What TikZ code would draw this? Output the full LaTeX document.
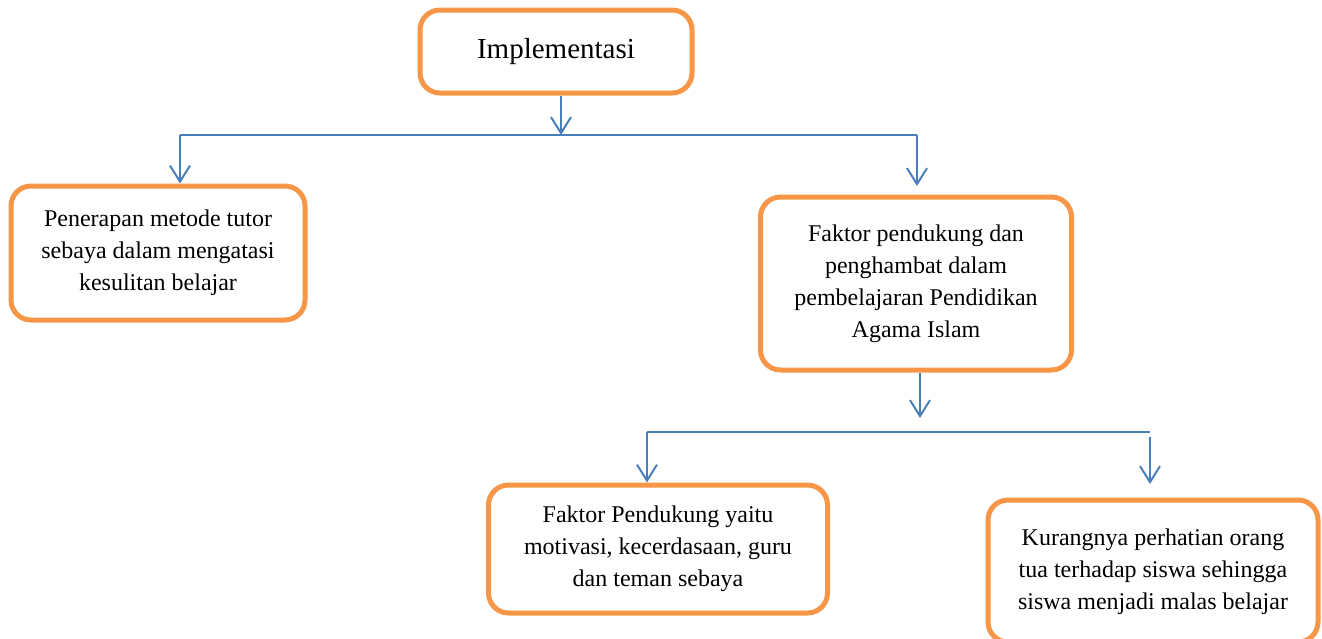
\documentclass[tikz,border=0pt]{standalone}
\usepackage{fontspec}
\setmainfont{Liberation Serif}
\usetikzlibrary{arrows.meta}
\definecolor{boxorange}{HTML}{F79646}
\definecolor{lineblue}{HTML}{4A7EBB}
\begin{document}
\begin{tikzpicture}[x=1pt,y=-1pt,
  box/.style={draw=boxorange,line width=5pt,rounded corners=20pt,fill=white,
    align=center,inner sep=0pt,font=\fontsize{24}{32}\selectfont},
  conn/.style={draw=lineblue,line width=2pt},
  arr/.style={conn,-{Straight Barb[length=16pt,width=20pt]}}]
\useasboundingbox (0,0) rectangle (1322,638);
\node[box,minimum width=272pt,minimum height=83pt,font=\fontsize{29}{35}\selectfont] (impl) at (556,51.5) {\raisebox{6pt}{Implementasi}};
\node[box,minimum width=294pt,minimum height=134pt] (left) at (158,253) {Penerapan metode tutor\\sebaya dalam mengatasi\\kesulitan belajar};
\node[box,minimum width=311pt,minimum height=173pt] (mid) at (916,283.5) {Faktor pendukung dan\\penghambat dalam\\pembelajaran Pendidikan\\Agama Islam};
\node[box,minimum width=339pt,minimum height=128pt] (bl) at (658,549) {Faktor Pendukung yaitu\\motivasi, kecerdasaan, guru\\dan teman sebaya};
\node[box,minimum width=330pt,minimum height=142pt] (br) at (1153,571) {\raisebox{3pt}{\begin{tabular}{@{}c@{}}Kurangnya perhatian orang\\tua terhadap siswa sehingga\\siswa menjadi malas belajar\end{tabular}}};
% upper bus
\coordinate (j1) at (561,135);
\coordinate (b1L) at (180,135);
\coordinate (b1R) at (917,135);
\coordinate (t2) at (917,186);
\draw[arr] (impl.south -| j1) -- (j1);
\draw[conn] (b1L) -- (b1R);
\draw[arr] (b1L) -- (b1L |- left.north);
\draw[arr] (b1R) -- (t2);
% lower bus
\coordinate (j2) at (920,418);
\coordinate (b2L) at (647,432);
\coordinate (b2R) at (1150,432);
\coordinate (s3) at (1150,437);
\coordinate (t3) at (1150,484);
\draw[arr] (mid.south -| j2) -- (j2);
\draw[conn] (b2L) -- (b2R);
\draw[arr] (b2L) -- (b2L |- bl.north);
\draw[arr] (s3) -- (t3);
\end{tikzpicture}
\end{document}
